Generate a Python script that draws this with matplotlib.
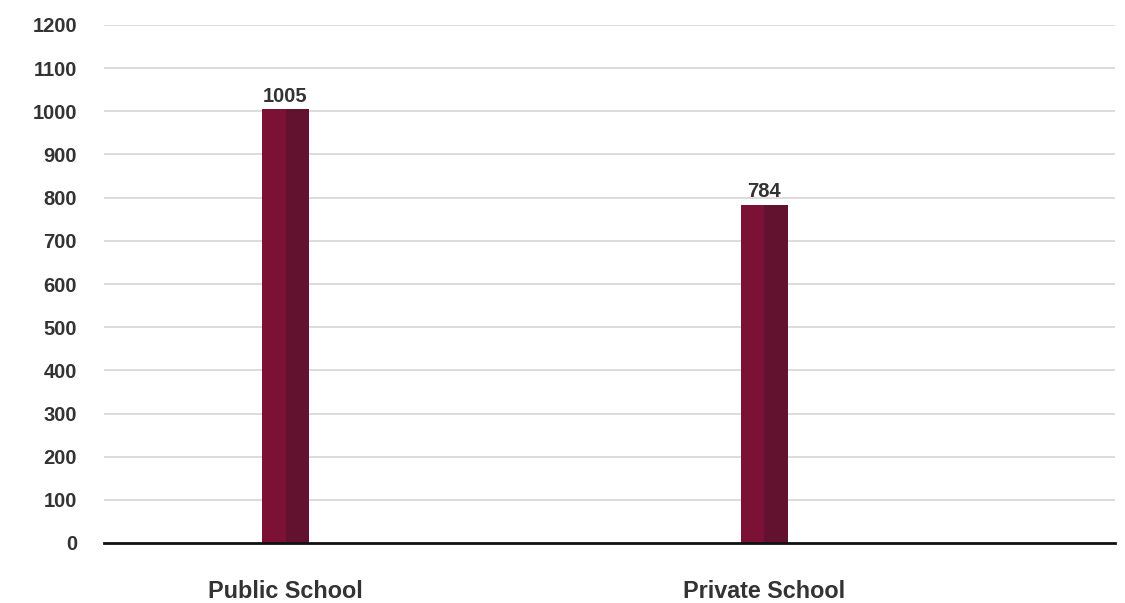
import matplotlib.pyplot as plt
import numpy as np

categories = ["Public School", "Private School"]
values = [1005, 784]
y_ticks = list(range(0, 1201, 100))

plt.rcParams['font.family'] = ['Liberation Sans', 'DejaVu Sans']

fig = plt.figure(figsize=(11.25, 6.03), dpi=100, facecolor='white')
ax = fig.add_axes([104 / 1125, 60 / 603, 1011 / 1125, 518 / 603])

x = np.arange(len(categories))
half = 0.049
# two-tone bars: lighter left half, darker right half
ax.bar(x - half / 2, values, width=half, color='#7b1235', zorder=3)
ax.bar(x + half / 2, values, width=half, color='#62112f', zorder=3)

for xi, v in zip(x, values):
    ax.text(xi, v + 8, str(v), ha='center', va='bottom', fontsize=14.5,
            fontweight='bold', color='#333333')

ax.set_xlim(-0.379, 1.732)
ax.set_ylim(0, 1200)
ax.set_yticks(y_ticks)
ax.set_yticklabels([str(t) for t in y_ticks])
ax.set_xticks(x)
ax.set_xticklabels(categories)

ax.grid(axis='y', color='#d9d9d9', linewidth=1.3, zorder=0)
ax.set_axisbelow(True)
for side in ['top', 'right', 'left']:
    ax.spines[side].set_visible(False)
ax.spines['bottom'].set_color('#111111')
ax.spines['bottom'].set_linewidth(2)
ax.spines['bottom'].set_zorder(4)

ax.tick_params(axis='y', length=0, pad=19.5, labelsize=14.5, labelcolor='#333333')
ax.tick_params(axis='x', length=0, pad=26.5, labelsize=16.8, labelcolor='#333333')
for lbl in ax.get_yticklabels() + ax.get_xticklabels():
    lbl.set_fontweight('bold')

fig.savefig('out.png', dpi=100, facecolor='white')
